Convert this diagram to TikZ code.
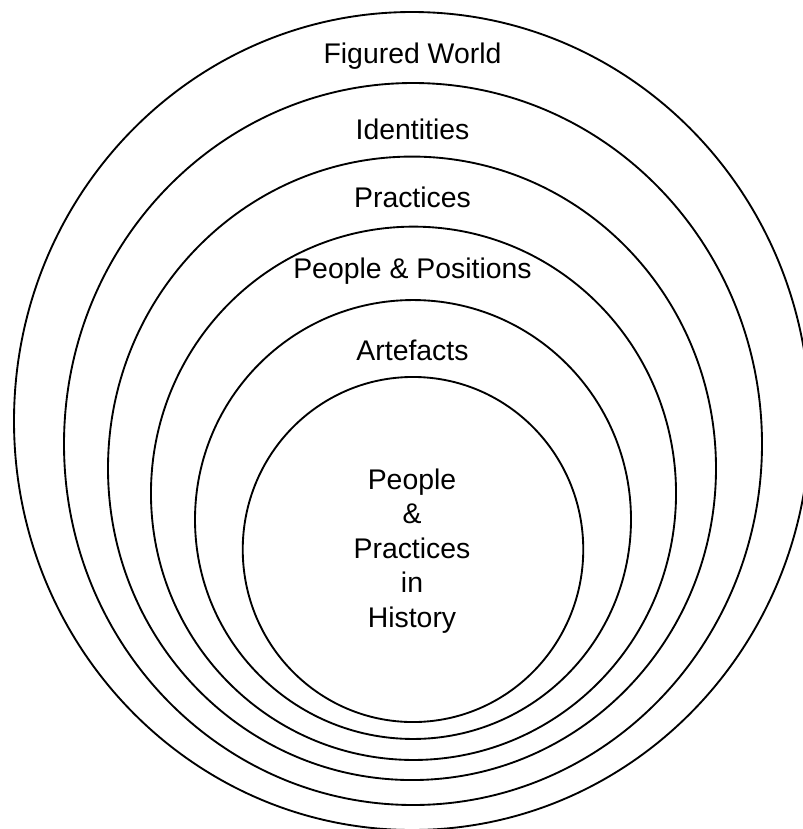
\documentclass[tikz,border=0pt]{standalone}
\usepackage{fontspec}
\setmainfont{Liberation Sans}
\begin{document}
\begin{tikzpicture}[x=0.75pt,y=-0.75pt,
  ring/.style={draw=black,line width=1.4pt},
  lbl/.style={inner sep=0pt,anchor=base,font=\fontsize{21.3}{25.8}\selectfont},
  innerlbl/.style={inner sep=0pt,align=center,font=\fontsize{21.3}{25.8}\selectfont}]
\useasboundingbox (0,0) rectangle (803,829);
\fill[white] (0,0) rectangle (803,829);
\begin{scope}
\clip (0,0) rectangle (803,829);
\draw[ring] (412,421) ellipse [x radius=298.5pt, y radius=306.75pt];
\draw[ring] (413,444) ellipse [x radius=261.75pt, y radius=270.75pt];
\draw[ring] (412,468.3) ellipse [x radius=228pt, y radius=233.8pt];
\draw[ring] (413.5,493.3) ellipse [x radius=196.9pt, y radius=200pt];
\draw[ring] (413,519.5) ellipse [x radius=163.5pt, y radius=164.6pt];
\draw[ring] (413,549.5) ellipse [x radius=127.7pt, y radius=129.4pt];
\end{scope}
\node[lbl] (fw) at (412.5,63) {Figured World};
\node[lbl] (id) at (412.5,139) {Identities};
\node[lbl] (pr) at (412.5,207) {Practices};
\node[lbl] (pp) at (412.5,278) {People \& Positions};
\node[lbl] (ar) at (412.5,360) {Artefacts};
\node[innerlbl] (ph) at (412,551) {People\\\&\\Practices\\in\\History};
\end{tikzpicture}
\end{document}
